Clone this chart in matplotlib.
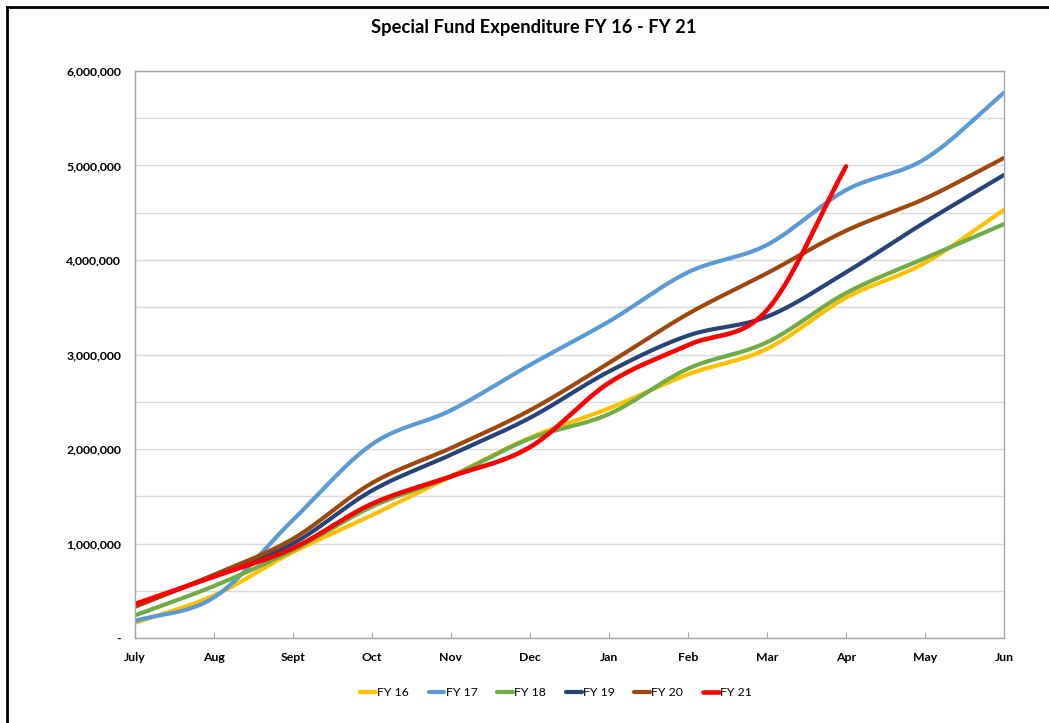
import numpy as np
import matplotlib.pyplot as plt
from matplotlib.lines import Line2D

plt.rcParams['font.family'] = ['Lato', 'DejaVu Sans']

months = ["July", "Aug", "Sept", "Oct", "Nov", "Dec", "Jan", "Feb", "Mar", "Apr", "May", "Jun"]

fy16 = [0.16, 0.45, 0.91, 1.30, 1.71, 2.12, 2.43, 2.79, 3.06, 3.60, 3.97, 4.53]
fy17 = [0.18, 0.43, 1.25, 2.05, 2.41, 2.89, 3.35, 3.87, 4.16, 4.74, 5.07, 5.77]
fy18 = [0.24, 0.55, 0.93, 1.39, 1.71, 2.11, 2.37, 2.85, 3.13, 3.65, 4.02, 4.38]
fy19 = [0.34, 0.66, 1.00, 1.56, 1.94, 2.33, 2.82, 3.20, 3.40, 3.87, 4.40, 4.90]
fy20 = [0.33, 0.67, 1.05, 1.64, 2.01, 2.41, 2.91, 3.43, 3.86, 4.31, 4.65, 5.08]
fy21 = [0.36, 0.65, 0.95, 1.42, 1.71, 2.02, 2.70, 3.10, 3.47, 4.99]

series = [
    ("FY 16", fy16, "#FFC000"),
    ("FY 17", fy17, "#5B9BD5"),
    ("FY 18", fy18, "#70AD47"),
    ("FY 19", fy19, "#264478"),
    ("FY 20", fy20, "#9E480E"),
    ("FY 21", fy21, "#FF0000"),
]


def smooth(xs, ys, n=40):
    # excel-style smoothed line (catmull-rom as bezier)
    p = np.column_stack([xs, ys]).astype(float)
    p = np.vstack([2 * p[0] - p[1], p, 2 * p[-1] - p[-2]])
    t = np.linspace(0, 1, n)[:, None]
    out = []
    for i in range(1, len(p) - 2):
        b0 = p[i]
        b1 = p[i] + (p[i + 1] - p[i - 1]) / 6
        b2 = p[i + 1] - (p[i + 2] - p[i]) / 6
        b3 = p[i + 1]
        seg = (1 - t) ** 3 * b0 + 3 * (1 - t) ** 2 * t * b1 + 3 * (1 - t) * t ** 2 * b2 + t ** 3 * b3
        out.append(seg if i == 1 else seg[1:])
    out = np.vstack(out)
    return out[:, 0], out[:, 1]


fig = plt.figure(figsize=(10.49, 7.23), dpi=100)
ax = fig.add_axes([135 / 1049, 85 / 723, (1004 - 135) / 1049, (638 - 71) / 723])

for name, vals, col in series:
    x = np.arange(len(vals))
    sx, sy = smooth(x, np.array(vals) * 1e6)
    lw = 3.3 if name == "FY 21" else 3.0
    ax.plot(sx, sy, color=col, lw=lw, label=name, solid_capstyle='round')

ax.set_xlim(0, len(months) - 1)
ax.set_ylim(0, 6e6)
ax.set_xticks(range(len(months)))
ax.set_xticklabels(months, fontsize=8.8, fontweight='bold')
ax.set_yticks(np.arange(0, 6.01e6, 1e6))
ax.set_yticklabels(["-"] + ["{:,.0f}".format(v) for v in np.arange(1e6, 6.01e6, 1e6)],
                   fontsize=8.8, fontweight='bold')
ax.set_yticks(np.arange(0, 6.01e6, 5e5), minor=True)
ax.grid(axis='y', which='both', color='#d9d9d9', lw=1)
ax.set_axisbelow(True)
ax.tick_params(axis='y', which='both', length=0, pad=10)
ax.tick_params(axis='x', direction='in', length=4, color='#a6a6a6', pad=10)
for s in ax.spines.values():
    s.set_color('#a6a6a6')
    s.set_linewidth(1)

fig.text(0.509, 1 - 28 / 723, "Special Fund Expenditure FY 16 - FY 21", ha='center', va='center',
         fontsize=13.2, fontweight='bold')

fig.legend(loc='center', bbox_to_anchor=(0.53, 1 - 693 / 723), ncol=6, frameon=False,
           fontsize=8.8, handlelength=1.3, handletextpad=0.1, columnspacing=1.6)

# outer frame (left and top edges visible)
fig.add_artist(Line2D([7 / 1049, 7 / 1049], [0, 1 - 7 / 723], color='black', lw=2, transform=fig.transFigure))
fig.add_artist(Line2D([7 / 1049, 1], [1 - 7 / 723, 1 - 7 / 723], color='black', lw=2, transform=fig.transFigure))

fig.savefig("out.png", dpi=100, facecolor='white')
